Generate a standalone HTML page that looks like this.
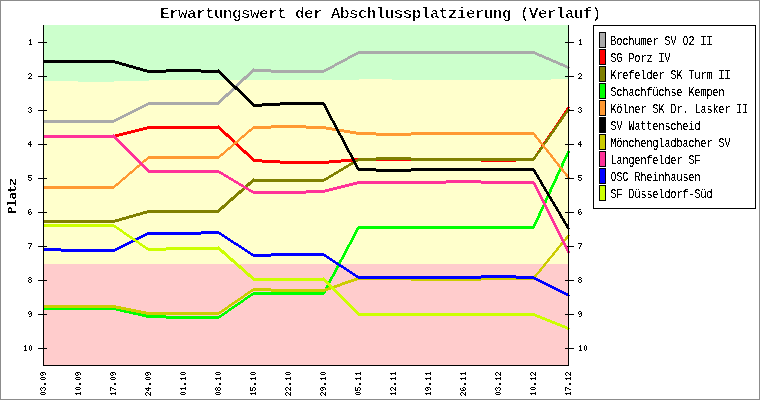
<!DOCTYPE html>
<html><head><meta charset="utf-8"><title>Erwartungswert der Abschlussplatzierung (Verlauf)</title>
<style>html,body{margin:0;padding:0;background:#fff;}svg{display:block;}text{font-family:"Liberation Mono",monospace;fill:#000;}</style></head><body>
<svg width="760" height="400" viewBox="0 0 760 400" shape-rendering="crispEdges">
<defs><filter id="bw" x="0" y="0" width="760" height="400" filterUnits="userSpaceOnUse" color-interpolation-filters="sRGB"><feComponentTransfer><feFuncR type="discrete" tableValues="0"/><feFuncG type="discrete" tableValues="0"/><feFuncB type="discrete" tableValues="0"/><feFuncA type="discrete" tableValues="0 0 0 0 0 0 0 0 0 1 1 1 1 1 1 1 1 1 1 1"/></feComponentTransfer></filter><filter id="bw2" x="0" y="0" width="760" height="400" filterUnits="userSpaceOnUse" color-interpolation-filters="sRGB"><feComponentTransfer><feFuncR type="discrete" tableValues="0"/><feFuncG type="discrete" tableValues="0"/><feFuncB type="discrete" tableValues="0"/><feFuncA type="discrete" tableValues="0 0 0 1"/></feComponentTransfer></filter></defs>
<rect x="0" y="0" width="760" height="400" fill="#ffffff"/>
<rect x="44" y="25" width="524" height="340" fill="#ffffcc"/>
<polygon points="44,25 44,81 78,81 78,82 114,82 114,81 149,81 149,80 359,80 359,79 392,79 392,80 551,80 551,79 568,79 568,25" fill="#ccffcc"/>
<rect x="44" y="264" width="524" height="101" fill="#ffcccc"/>
<rect x="38" y="42" width="9" height="1" fill="#000"/>
<rect x="565" y="42" width="9" height="1" fill="#000"/>
<rect x="38" y="76" width="9" height="1" fill="#000"/>
<rect x="565" y="76" width="9" height="1" fill="#000"/>
<rect x="38" y="110" width="9" height="1" fill="#000"/>
<rect x="565" y="110" width="9" height="1" fill="#000"/>
<rect x="38" y="144" width="9" height="1" fill="#000"/>
<rect x="565" y="144" width="9" height="1" fill="#000"/>
<rect x="38" y="178" width="9" height="1" fill="#000"/>
<rect x="565" y="178" width="9" height="1" fill="#000"/>
<rect x="38" y="212" width="9" height="1" fill="#000"/>
<rect x="565" y="212" width="9" height="1" fill="#000"/>
<rect x="38" y="246" width="9" height="1" fill="#000"/>
<rect x="565" y="246" width="9" height="1" fill="#000"/>
<rect x="38" y="280" width="9" height="1" fill="#000"/>
<rect x="565" y="280" width="9" height="1" fill="#000"/>
<rect x="38" y="314" width="9" height="1" fill="#000"/>
<rect x="565" y="314" width="9" height="1" fill="#000"/>
<rect x="38" y="348" width="9" height="1" fill="#000"/>
<rect x="565" y="348" width="9" height="1" fill="#000"/>
<path d="M43 122h71v1h-71zM43 121h73v1h-73zM43 120h75v1h-75zM114 119h6v1h-6zM116 118h6v1h-6zM118 117h6v1h-6zM120 116h6v1h-6zM122 115h6v1h-6zM124 114h6v1h-6zM126 113h6v1h-6zM128 112h6v1h-6zM130 111h6v1h-6zM132 110h6v1h-6zM134 109h6v1h-6zM136 108h6v1h-6zM138 107h6v1h-6zM140 106h6v1h-6zM142 105h6v1h-6zM144 104h75v1h-75zM146 103h74v1h-74zM148 102h73v1h-73zM218 101h4v1h-4zM219 100h4v1h-4zM220 99h4v1h-4zM221 98h4v1h-4zM222 97h4v1h-4zM223 96h5v1h-5zM224 95h5v1h-5zM225 94h5v1h-5zM226 93h5v1h-5zM228 92h4v1h-4zM229 91h4v1h-4zM230 90h4v1h-4zM231 89h4v1h-4zM232 88h4v1h-4zM233 87h4v1h-4zM234 86h4v1h-4zM235 85h4v1h-4zM236 84h4v1h-4zM237 83h4v1h-4zM238 82h4v1h-4zM239 81h4v1h-4zM240 80h4v1h-4zM241 79h5v1h-5zM242 78h5v1h-5zM243 77h5v1h-5zM244 76h5v1h-5zM246 75h4v1h-4zM247 74h4v1h-4zM248 73h4v1h-4zM249 72h4v1h-4zM250 71h76v1h-76zM251 70h77v1h-77zM252 69h19v1h-19zM253 68h1v1h-1zM271 72h53v1h-53zM324 69h6v1h-6zM326 68h6v1h-6zM328 67h6v1h-6zM330 66h5v1h-5zM332 65h5v1h-5zM334 64h5v1h-5zM335 63h6v1h-6zM337 62h6v1h-6zM339 61h6v1h-6zM341 60h6v1h-6zM343 59h5v1h-5zM345 58h5v1h-5zM347 57h5v1h-5zM348 56h6v1h-6zM350 55h6v1h-6zM352 54h6v1h-6zM354 53h185v1h-185zM356 52h181v1h-181zM358 51h177v1h-177zM535 54h7v1h-7zM537 55h7v1h-7zM539 56h7v1h-7zM542 57h7v1h-7zM544 58h7v1h-7zM546 59h7v1h-7zM549 60h7v1h-7zM551 61h7v1h-7zM553 62h7v1h-7zM556 63h7v1h-7zM558 64h7v1h-7zM560 65h7v1h-7zM563 66h6v1h-6zM565 67h5v1h-5zM567 68h2v1h-2z" fill="#aaaaaa"/>
<path d="M43 137h72v1h-72zM43 136h76v1h-76zM43 135h80v1h-80zM115 134h12v1h-12zM119 133h12v1h-12zM123 132h12v1h-12zM127 131h12v1h-12zM131 130h12v1h-12zM135 129h12v1h-12zM139 128h83v1h-83zM143 127h78v1h-78zM147 126h73v1h-73zM218 125h1v1h-1zM219 129h4v1h-4zM220 130h4v1h-4zM221 131h4v1h-4zM222 132h4v1h-4zM223 133h5v1h-5zM224 134h5v1h-5zM225 135h5v1h-5zM226 136h5v1h-5zM228 137h4v1h-4zM229 138h4v1h-4zM230 139h4v1h-4zM231 140h4v1h-4zM232 141h4v1h-4zM233 142h4v1h-4zM234 143h4v1h-4zM235 144h4v1h-4zM236 145h4v1h-4zM237 146h4v1h-4zM238 147h4v1h-4zM239 148h4v1h-4zM240 149h4v1h-4zM241 150h5v1h-5zM242 151h5v1h-5zM243 152h5v1h-5zM244 153h5v1h-5zM246 154h4v1h-4zM247 155h4v1h-4zM248 156h4v1h-4zM249 157h4v1h-4zM250 158h4v1h-4zM251 159h11v1h-11zM252 160h28v1h-28zM253 161h100v1h-100zM262 162h79v1h-79zM280 163h49v1h-49zM329 160h205v1h-205zM341 159h194v1h-194zM353 158h128v1h-128zM481 161h35v1h-35zM516 158h20v1h-20zM533 157h3v1h-3zM534 156h3v1h-3zM535 154h3v2h-3zM536 153h3v1h-3zM537 151h3v2h-3zM538 150h3v1h-3zM539 148h3v2h-3zM540 147h3v1h-3zM541 145h3v2h-3zM542 144h3v1h-3zM543 142h3v2h-3zM544 141h3v1h-3zM545 139h3v2h-3zM546 138h3v1h-3zM547 136h3v2h-3zM548 135h3v1h-3zM549 133h3v2h-3zM550 132h3v1h-3zM551 131h3v1h-3zM552 129h3v2h-3zM553 128h3v1h-3zM554 126h3v2h-3zM555 125h3v1h-3zM556 123h3v2h-3zM557 122h3v1h-3zM558 120h3v2h-3zM559 119h3v1h-3zM560 117h3v2h-3zM561 116h3v1h-3zM562 114h3v2h-3zM563 113h3v1h-3zM564 111h3v2h-3zM565 110h3v1h-3zM566 108h3v2h-3zM567 107h3v1h-3z" fill="#ff0000"/>
<path d="M43 222h72v1h-72zM43 221h76v1h-76zM43 220h79v1h-79zM115 219h11v1h-11zM119 218h10v1h-10zM122 217h11v1h-11zM126 216h10v1h-10zM129 215h11v1h-11zM133 214h10v1h-10zM136 213h11v1h-11zM140 212h79v1h-79zM143 211h77v1h-77zM147 210h74v1h-74zM218 209h4v1h-4zM219 208h5v1h-5zM220 207h5v1h-5zM221 206h5v1h-5zM222 205h5v1h-5zM224 204h4v1h-4zM225 203h4v1h-4zM226 202h4v1h-4zM227 201h4v1h-4zM228 200h5v1h-5zM229 199h5v1h-5zM230 198h5v1h-5zM231 197h5v1h-5zM233 196h4v1h-4zM234 195h4v1h-4zM235 194h4v1h-4zM236 193h5v1h-5zM237 192h5v1h-5zM238 191h5v1h-5zM239 190h5v1h-5zM241 189h4v1h-4zM242 188h4v1h-4zM243 187h4v1h-4zM244 186h4v1h-4zM245 185h5v1h-5zM246 184h5v1h-5zM247 183h5v1h-5zM248 182h5v1h-5zM250 181h74v1h-74zM251 180h75v1h-75zM252 179h76v1h-76zM253 178h1v1h-1zM324 178h5v1h-5zM326 177h5v1h-5zM328 176h5v1h-5zM329 175h5v1h-5zM331 174h5v1h-5zM333 173h5v1h-5zM334 172h5v1h-5zM336 171h5v1h-5zM338 170h5v1h-5zM339 169h5v1h-5zM341 168h5v1h-5zM343 167h5v1h-5zM344 166h5v1h-5zM346 165h5v1h-5zM348 164h5v1h-5zM349 163h5v1h-5zM351 162h5v1h-5zM353 161h5v1h-5zM354 160h22v1h-22zM356 159h179v1h-179zM358 158h178v1h-178zM376 157h35v1h-35zM411 160h123v1h-123zM533 157h3v1h-3zM534 156h3v1h-3zM535 154h3v2h-3zM536 153h3v1h-3zM537 152h3v1h-3zM538 150h3v2h-3zM539 149h3v1h-3zM540 147h3v2h-3zM541 146h3v1h-3zM542 144h3v2h-3zM543 143h3v1h-3zM544 142h3v1h-3zM545 140h3v2h-3zM546 139h3v1h-3zM547 137h3v2h-3zM548 136h3v1h-3zM549 134h3v2h-3zM550 133h3v1h-3zM551 132h3v1h-3zM552 130h3v2h-3zM553 129h3v1h-3zM554 127h3v2h-3zM555 126h3v1h-3zM556 124h3v2h-3zM557 123h3v1h-3zM558 122h3v1h-3zM559 120h3v2h-3zM560 119h3v1h-3zM561 117h3v2h-3zM562 116h3v1h-3zM563 114h3v2h-3zM564 113h3v1h-3zM565 112h3v1h-3zM566 110h3v2h-3zM567 109h3v1h-3z" fill="#808000"/>
<path d="M43 307h73v1h-73zM43 308h77v1h-77zM43 309h81v1h-81zM116 310h13v1h-13zM120 311h13v1h-13zM124 312h14v1h-14zM129 313h13v1h-13zM133 314h13v1h-13zM138 315h28v1h-28zM142 316h80v1h-80zM146 317h75v1h-75zM166 318h53v1h-53zM219 315h5v1h-5zM221 314h4v1h-4zM222 313h5v1h-5zM224 312h4v1h-4zM225 311h4v1h-4zM227 310h4v1h-4zM228 309h4v1h-4zM229 308h5v1h-5zM231 307h4v1h-4zM232 306h5v1h-5zM234 305h4v1h-4zM235 304h5v1h-5zM237 303h4v1h-4zM238 302h5v1h-5zM240 301h4v1h-4zM241 300h4v1h-4zM243 299h4v1h-4zM244 298h4v1h-4zM245 297h5v1h-5zM247 296h4v1h-4zM248 295h5v1h-5zM250 294h74v1h-74zM251 293h74v1h-74zM253 292h73v1h-73zM323 291h3v1h-3zM324 289h3v2h-3zM325 287h3v2h-3zM326 285h3v2h-3zM327 283h3v2h-3zM328 281h3v2h-3zM329 279h3v2h-3zM330 277h3v2h-3zM331 276h3v1h-3zM332 274h3v2h-3zM333 272h3v2h-3zM334 270h3v2h-3zM335 268h3v2h-3zM336 266h3v2h-3zM337 264h3v2h-3zM338 262h3v2h-3zM339 260h3v2h-3zM340 259h3v1h-3zM341 257h3v2h-3zM342 255h3v2h-3zM343 253h3v2h-3zM344 251h3v2h-3zM345 249h3v2h-3zM346 247h3v2h-3zM347 245h3v2h-3zM348 244h3v1h-3zM349 242h3v2h-3zM350 240h3v2h-3zM351 238h3v2h-3zM352 236h3v2h-3zM353 234h3v2h-3zM354 232h3v2h-3zM355 230h3v2h-3zM356 229h3v1h-3zM356 228h178v1h-178zM357 227h178v1h-178zM358 226h177v1h-177zM533 224h3v2h-3zM534 222h3v2h-3zM535 220h3v2h-3zM536 218h3v2h-3zM537 216h3v2h-3zM538 213h3v3h-3zM539 211h3v2h-3zM540 209h3v2h-3zM541 207h3v2h-3zM542 205h3v2h-3zM543 203h3v2h-3zM544 200h3v3h-3zM545 198h3v2h-3zM546 196h3v2h-3zM547 194h3v2h-3zM548 192h3v2h-3zM549 189h3v3h-3zM550 187h3v2h-3zM551 185h3v2h-3zM552 183h3v2h-3zM553 181h3v2h-3zM554 179h3v2h-3zM555 176h3v3h-3zM556 174h3v2h-3zM557 172h3v2h-3zM558 170h3v2h-3zM559 168h3v2h-3zM560 166h3v2h-3zM561 163h3v3h-3zM562 161h3v2h-3zM563 159h3v2h-3zM564 157h3v2h-3zM565 155h3v2h-3zM566 153h3v2h-3zM567 151h3v2h-3z" fill="#00ff00"/>
<path d="M43 188h71v1h-71zM43 187h72v1h-72zM43 186h73v1h-73zM114 185h4v1h-4zM115 184h4v1h-4zM116 183h4v1h-4zM118 182h3v1h-3zM119 181h3v1h-3zM120 180h3v1h-3zM121 179h4v1h-4zM122 178h4v1h-4zM123 177h4v1h-4zM125 176h3v1h-3zM126 175h3v1h-3zM127 174h3v1h-3zM128 173h4v1h-4zM129 172h4v1h-4zM130 171h4v1h-4zM132 170h3v1h-3zM133 169h3v1h-3zM134 168h3v1h-3zM135 167h4v1h-4zM136 166h4v1h-4zM137 165h4v1h-4zM139 164h3v1h-3zM140 163h3v1h-3zM141 162h3v1h-3zM142 161h4v1h-4zM143 160h4v1h-4zM144 159h4v1h-4zM146 158h73v1h-73zM147 157h73v1h-73zM148 156h73v1h-73zM219 155h4v1h-4zM220 154h4v1h-4zM221 153h4v1h-4zM223 152h3v1h-3zM224 151h3v1h-3zM225 150h3v1h-3zM226 149h4v1h-4zM227 148h4v1h-4zM228 147h4v1h-4zM230 146h3v1h-3zM231 145h3v1h-3zM232 144h3v1h-3zM233 143h4v1h-4zM234 142h4v1h-4zM235 141h4v1h-4zM237 140h3v1h-3zM238 139h3v1h-3zM239 138h3v1h-3zM240 137h4v1h-4zM241 136h4v1h-4zM242 135h4v1h-4zM244 134h3v1h-3zM245 133h3v1h-3zM246 132h3v1h-3zM247 131h4v1h-4zM248 130h4v1h-4zM249 129h4v1h-4zM251 128h20v1h-20zM252 127h80v1h-80zM253 126h73v1h-73zM271 125h35v1h-35zM306 128h32v1h-32zM326 129h18v1h-18zM332 130h18v1h-18zM338 131h18v1h-18zM344 132h32v1h-32zM350 133h185v1h-185zM356 134h180v1h-180zM376 135h35v1h-35zM411 132h123v1h-123zM534 135h3v2h-3zM535 137h3v1h-3zM536 138h3v1h-3zM537 139h3v1h-3zM538 140h3v2h-3zM539 142h3v1h-3zM540 143h3v1h-3zM541 144h3v1h-3zM542 145h3v2h-3zM543 147h3v1h-3zM544 148h3v1h-3zM545 149h3v1h-3zM546 150h3v2h-3zM547 152h3v1h-3zM548 153h3v1h-3zM549 154h3v1h-3zM550 155h3v2h-3zM551 157h3v1h-3zM552 158h3v1h-3zM553 159h3v2h-3zM554 161h3v1h-3zM555 162h3v1h-3zM556 163h3v1h-3zM557 164h3v2h-3zM558 166h3v1h-3zM559 167h3v1h-3zM560 168h3v1h-3zM561 169h3v2h-3zM562 171h3v1h-3zM563 172h3v1h-3zM564 173h3v1h-3zM565 174h3v2h-3zM566 176h3v1h-3zM567 177h3v1h-3z" fill="#ff9933"/>
<path d="M43 60h72v1h-72zM43 61h76v1h-76zM43 62h79v1h-79zM115 63h11v1h-11zM119 64h10v1h-10zM122 65h11v1h-11zM126 66h10v1h-10zM129 67h11v1h-11zM133 68h10v1h-10zM136 69h11v1h-11zM140 70h80v1h-80zM143 71h78v1h-78zM147 72h19v1h-19zM166 69h35v1h-35zM201 72h21v1h-21zM218 69h1v1h-1zM219 73h4v1h-4zM220 74h4v1h-4zM221 75h4v1h-4zM222 76h4v1h-4zM223 77h4v1h-4zM224 78h4v1h-4zM225 79h4v1h-4zM226 80h4v1h-4zM227 81h4v1h-4zM228 82h4v1h-4zM229 83h4v1h-4zM230 84h4v1h-4zM231 85h4v1h-4zM232 86h5v1h-5zM233 87h5v1h-5zM234 88h5v1h-5zM235 89h5v1h-5zM237 90h4v1h-4zM238 91h4v1h-4zM239 92h4v1h-4zM240 93h4v1h-4zM241 94h4v1h-4zM242 95h4v1h-4zM243 96h4v1h-4zM244 97h4v1h-4zM245 98h4v1h-4zM246 99h4v1h-4zM247 100h4v1h-4zM248 101h4v1h-4zM249 102h4v1h-4zM250 103h4v1h-4zM251 104h75v1h-75zM252 105h28v1h-28zM253 106h9v1h-9zM262 103h63v1h-63zM280 102h44v1h-44zM323 105h3v1h-3zM324 106h3v2h-3zM325 108h3v2h-3zM326 110h3v2h-3zM327 112h3v2h-3zM328 114h3v2h-3zM329 116h3v2h-3zM330 118h3v2h-3zM331 120h3v1h-3zM332 121h3v2h-3zM333 123h3v2h-3zM334 125h3v2h-3zM335 127h3v2h-3zM336 129h3v2h-3zM337 131h3v2h-3zM338 133h3v2h-3zM339 135h3v1h-3zM340 136h3v2h-3zM341 138h3v2h-3zM342 140h3v2h-3zM343 142h3v2h-3zM344 144h3v2h-3zM345 146h3v2h-3zM346 148h3v2h-3zM347 150h3v2h-3zM348 152h3v1h-3zM349 153h3v2h-3zM350 155h3v2h-3zM351 157h3v2h-3zM352 159h3v2h-3zM353 161h3v2h-3zM354 163h3v2h-3zM355 165h3v2h-3zM356 167h3v1h-3zM356 168h20v1h-20zM357 169h178v1h-178zM358 170h178v1h-178zM376 171h35v1h-35zM411 168h123v1h-123zM533 171h3v1h-3zM534 172h3v2h-3zM535 174h3v1h-3zM536 175h3v2h-3zM537 177h3v2h-3zM538 179h3v1h-3zM539 180h3v2h-3zM540 182h3v2h-3zM541 184h3v2h-3zM542 186h3v1h-3zM543 187h3v2h-3zM544 189h3v2h-3zM545 191h3v1h-3zM546 192h3v2h-3zM547 194h3v2h-3zM548 196h3v1h-3zM549 197h3v2h-3zM550 199h3v2h-3zM551 201h3v1h-3zM552 202h3v2h-3zM553 204h3v2h-3zM554 206h3v1h-3zM555 207h3v2h-3zM556 209h3v2h-3zM557 211h3v1h-3zM558 212h3v2h-3zM559 214h3v2h-3zM560 216h3v2h-3zM561 218h3v1h-3zM562 219h3v2h-3zM563 221h3v2h-3zM564 223h3v1h-3zM565 224h3v2h-3zM566 226h3v2h-3zM567 228h3v1h-3z" fill="#000000"/>
<path d="M43 305h73v1h-73zM43 306h78v1h-78zM43 307h83v1h-83zM116 308h15v1h-15zM121 309h15v1h-15zM126 310h15v1h-15zM131 311h15v1h-15zM136 312h86v1h-86zM141 313h80v1h-80zM146 314h73v1h-73zM219 311h5v1h-5zM221 310h4v1h-4zM222 309h5v1h-5zM224 308h4v1h-4zM225 307h4v1h-4zM227 306h4v1h-4zM228 305h4v1h-4zM229 304h5v1h-5zM231 303h4v1h-4zM232 302h5v1h-5zM234 301h4v1h-4zM235 300h5v1h-5zM237 299h4v1h-4zM238 298h5v1h-5zM240 297h4v1h-4zM241 296h4v1h-4zM243 295h4v1h-4zM244 294h4v1h-4zM245 293h5v1h-5zM247 292h4v1h-4zM248 291h5v1h-5zM250 290h78v1h-78zM251 289h80v1h-80zM253 288h18v1h-18zM271 291h54v1h-54zM325 288h9v1h-9zM328 287h9v1h-9zM331 286h9v1h-9zM334 285h8v1h-8zM337 284h8v1h-8zM340 283h8v1h-8zM342 282h9v1h-9zM345 281h9v1h-9zM348 280h9v1h-9zM351 279h183v1h-183zM354 278h181v1h-181zM357 277h54v1h-54zM411 280h70v1h-70zM481 277h55v1h-55zM534 275h3v2h-3zM535 274h3v1h-3zM536 273h3v1h-3zM537 272h3v1h-3zM538 271h3v1h-3zM539 269h3v2h-3zM540 268h3v1h-3zM541 267h3v1h-3zM542 266h3v1h-3zM543 264h3v2h-3zM544 263h3v1h-3zM545 262h3v1h-3zM546 261h3v1h-3zM547 259h3v2h-3zM548 258h3v1h-3zM549 257h3v1h-3zM550 256h3v1h-3zM551 255h3v1h-3zM552 253h3v2h-3zM553 252h3v1h-3zM554 251h3v1h-3zM555 250h3v1h-3zM556 248h3v2h-3zM557 247h3v1h-3zM558 246h3v1h-3zM559 245h3v1h-3zM560 243h3v2h-3zM561 242h3v1h-3zM562 241h3v1h-3zM563 240h3v1h-3zM564 239h3v1h-3zM565 237h3v2h-3zM566 236h3v1h-3zM567 235h3v1h-3z" fill="#cccc00"/>
<path d="M43 135h72v1h-72zM43 136h73v1h-73zM43 137h74v1h-74zM113 134h1v1h-1zM114 138h4v1h-4zM115 139h4v1h-4zM116 140h4v1h-4zM117 141h4v1h-4zM118 142h4v1h-4zM119 143h4v1h-4zM120 144h4v1h-4zM121 145h4v1h-4zM122 146h4v1h-4zM123 147h4v1h-4zM124 148h4v1h-4zM125 149h4v1h-4zM126 150h4v1h-4zM127 151h4v1h-4zM128 152h4v1h-4zM129 153h4v1h-4zM130 154h4v1h-4zM131 155h4v1h-4zM132 156h4v1h-4zM133 157h4v1h-4zM134 158h4v1h-4zM135 159h4v1h-4zM136 160h4v1h-4zM137 161h4v1h-4zM138 162h4v1h-4zM139 163h4v1h-4zM140 164h4v1h-4zM141 165h4v1h-4zM142 166h4v1h-4zM143 167h4v1h-4zM144 168h4v1h-4zM145 169h4v1h-4zM146 170h73v1h-73zM147 171h74v1h-74zM148 172h75v1h-75zM219 173h5v1h-5zM221 174h5v1h-5zM223 175h5v1h-5zM224 176h5v1h-5zM226 177h5v1h-5zM228 178h5v1h-5zM229 179h5v1h-5zM231 180h5v1h-5zM233 181h5v1h-5zM234 182h5v1h-5zM236 183h5v1h-5zM238 184h5v1h-5zM239 185h5v1h-5zM241 186h5v1h-5zM243 187h5v1h-5zM244 188h5v1h-5zM246 189h5v1h-5zM248 190h5v1h-5zM249 191h80v1h-80zM251 192h74v1h-74zM253 193h53v1h-53zM306 190h27v1h-27zM325 189h12v1h-12zM329 188h12v1h-12zM333 187h12v1h-12zM337 186h12v1h-12zM341 185h12v1h-12zM345 184h12v1h-12zM349 183h97v1h-97zM353 182h182v1h-182zM357 181h177v1h-177zM446 180h35v1h-35zM481 183h55v1h-55zM533 184h3v1h-3zM534 185h3v2h-3zM535 187h3v2h-3zM536 189h3v2h-3zM537 191h3v2h-3zM538 193h3v2h-3zM539 195h3v2h-3zM540 197h3v2h-3zM541 199h3v2h-3zM542 201h3v2h-3zM543 203h3v2h-3zM544 205h3v2h-3zM545 207h3v2h-3zM546 209h3v2h-3zM547 211h3v2h-3zM548 213h3v2h-3zM549 215h3v2h-3zM550 217h3v2h-3zM551 219h3v2h-3zM552 221h3v2h-3zM553 223h3v2h-3zM554 225h3v2h-3zM555 227h3v2h-3zM556 229h3v2h-3zM557 231h3v2h-3zM558 233h3v2h-3zM559 235h3v2h-3zM560 237h3v2h-3zM561 239h3v2h-3zM562 241h3v2h-3zM563 243h3v2h-3zM564 245h3v2h-3zM565 247h3v2h-3zM566 249h3v2h-3zM567 251h3v2h-3z" fill="#ff3399"/>
<path d="M43 248h18v1h-18zM43 250h74v1h-74zM43 249h76v1h-76zM61 251h54v1h-54zM115 248h6v1h-6zM117 247h6v1h-6zM119 246h6v1h-6zM121 245h6v1h-6zM123 244h6v1h-6zM125 243h6v1h-6zM127 242h6v1h-6zM129 241h6v1h-6zM131 240h6v1h-6zM133 239h6v1h-6zM135 238h6v1h-6zM137 237h6v1h-6zM139 236h6v1h-6zM141 235h6v1h-6zM143 234h58v1h-58zM145 233h77v1h-77zM147 232h74v1h-74zM201 231h18v1h-18zM219 234h5v1h-5zM221 235h4v1h-4zM222 236h5v1h-5zM224 237h4v1h-4zM225 238h5v1h-5zM227 239h4v1h-4zM228 240h5v1h-5zM230 241h4v1h-4zM231 242h5v1h-5zM233 243h5v1h-5zM234 244h5v1h-5zM236 245h5v1h-5zM238 246h4v1h-4zM239 247h5v1h-5zM241 248h4v1h-4zM242 249h5v1h-5zM244 250h4v1h-4zM245 251h5v1h-5zM247 252h4v1h-4zM248 253h5v1h-5zM250 254h76v1h-76zM251 255h76v1h-76zM253 256h18v1h-18zM271 253h53v1h-53zM324 256h5v1h-5zM326 257h4v1h-4zM327 258h5v1h-5zM329 259h4v1h-4zM330 260h5v1h-5zM332 261h4v1h-4zM333 262h5v1h-5zM335 263h4v1h-4zM336 264h5v1h-5zM338 265h5v1h-5zM339 266h5v1h-5zM341 267h5v1h-5zM343 268h4v1h-4zM344 269h5v1h-5zM346 270h4v1h-4zM347 271h5v1h-5zM349 272h4v1h-4zM350 273h5v1h-5zM352 274h4v1h-4zM353 275h5v1h-5zM355 276h179v1h-179zM356 277h180v1h-180zM358 278h123v1h-123zM481 275h35v1h-35zM516 278h22v1h-22zM534 279h6v1h-6zM536 280h6v1h-6zM538 281h6v1h-6zM540 282h6v1h-6zM542 283h6v1h-6zM544 284h6v1h-6zM546 285h6v1h-6zM548 286h6v1h-6zM550 287h6v1h-6zM552 288h6v1h-6zM554 289h6v1h-6zM556 290h6v1h-6zM558 291h6v1h-6zM560 292h6v1h-6zM562 293h6v1h-6zM564 294h5v1h-5zM566 295h4v1h-4zM568 296h1v1h-1z" fill="#0000ff"/>
<path d="M43 224h71v1h-71zM43 225h73v1h-73zM43 226h74v1h-74zM114 227h5v1h-5zM116 228h4v1h-4zM117 229h5v1h-5zM119 230h4v1h-4zM120 231h4v1h-4zM122 232h4v1h-4zM123 233h4v1h-4zM124 234h5v1h-5zM126 235h4v1h-4zM127 236h5v1h-5zM129 237h4v1h-4zM130 238h5v1h-5zM132 239h4v1h-4zM133 240h5v1h-5zM135 241h4v1h-4zM136 242h4v1h-4zM138 243h4v1h-4zM139 244h4v1h-4zM140 245h5v1h-5zM142 246h4v1h-4zM143 247h5v1h-5zM145 248h76v1h-76zM146 249h76v1h-76zM148 250h18v1h-18zM166 247h54v1h-54zM218 246h1v1h-1zM219 250h5v1h-5zM220 251h5v1h-5zM221 252h5v1h-5zM222 253h5v1h-5zM224 254h4v1h-4zM225 255h4v1h-4zM226 256h4v1h-4zM227 257h4v1h-4zM228 258h5v1h-5zM229 259h5v1h-5zM230 260h5v1h-5zM231 261h5v1h-5zM233 262h4v1h-4zM234 263h4v1h-4zM235 264h4v1h-4zM236 265h5v1h-5zM237 266h5v1h-5zM238 267h5v1h-5zM239 268h5v1h-5zM241 269h4v1h-4zM242 270h4v1h-4zM243 271h4v1h-4zM244 272h4v1h-4zM245 273h5v1h-5zM246 274h5v1h-5zM247 275h5v1h-5zM248 276h5v1h-5zM250 277h4v1h-4zM251 278h74v1h-74zM252 279h74v1h-74zM253 280h74v1h-74zM323 277h1v1h-1zM324 281h4v1h-4zM325 282h4v1h-4zM326 283h4v1h-4zM327 284h4v1h-4zM328 285h4v1h-4zM329 286h4v1h-4zM330 287h4v1h-4zM331 288h4v1h-4zM332 289h4v1h-4zM333 290h4v1h-4zM334 291h4v1h-4zM335 292h4v1h-4zM336 293h4v1h-4zM337 294h4v1h-4zM338 295h4v1h-4zM339 296h4v1h-4zM340 297h4v1h-4zM341 298h4v1h-4zM342 299h4v1h-4zM343 300h4v1h-4zM344 301h4v1h-4zM345 302h4v1h-4zM346 303h4v1h-4zM347 304h4v1h-4zM348 305h4v1h-4zM349 306h4v1h-4zM350 307h4v1h-4zM351 308h4v1h-4zM352 309h4v1h-4zM353 310h4v1h-4zM354 311h4v1h-4zM355 312h4v1h-4zM356 313h179v1h-179zM357 314h180v1h-180zM358 315h182v1h-182zM535 316h7v1h-7zM537 317h8v1h-8zM540 318h7v1h-7zM542 319h8v1h-8zM545 320h7v1h-7zM547 321h8v1h-8zM550 322h7v1h-7zM552 323h8v1h-8zM555 324h7v1h-7zM557 325h8v1h-8zM560 326h7v1h-7zM562 327h7v1h-7zM565 328h5v1h-5zM567 329h2v1h-2z" fill="#ccff00"/>
<rect x="43" y="25" width="1" height="341" fill="#000"/>
<rect x="568" y="25" width="1" height="341" fill="#000"/>
<rect x="43" y="365" width="526" height="1" fill="#000"/>
<path d="M30 39h1v1h-1zM580 39h1v1h-1zM29 40h2v1h-2zM579 40h2v1h-2zM30 41h1v1h-1zM580 41h1v1h-1zM30 42h1v1h-1zM580 42h1v1h-1zM30 43h1v1h-1zM580 43h1v1h-1zM29 44h3v1h-3zM579 44h3v1h-3zM29 73h2v1h-2zM579 73h2v1h-2zM28 74h1v1h-1zM31 74h1v1h-1zM578 74h1v1h-1zM581 74h1v1h-1zM31 75h1v1h-1zM581 75h1v1h-1zM30 76h1v1h-1zM580 76h1v1h-1zM29 77h1v1h-1zM579 77h1v1h-1zM28 78h4v1h-4zM578 78h4v1h-4zM29 107h2v1h-2zM579 107h2v1h-2zM28 108h1v1h-1zM31 108h1v1h-1zM578 108h1v1h-1zM581 108h1v1h-1zM30 109h1v1h-1zM580 109h1v1h-1zM31 110h1v1h-1zM581 110h1v1h-1zM28 111h1v1h-1zM31 111h1v1h-1zM578 111h1v1h-1zM581 111h1v1h-1zM29 112h2v1h-2zM579 112h2v1h-2zM30 141h1v1h-1zM580 141h1v1h-1zM29 142h2v1h-2zM579 142h2v1h-2zM28 143h1v1h-1zM30 143h1v1h-1zM578 143h1v1h-1zM580 143h1v1h-1zM28 144h4v1h-4zM578 144h4v1h-4zM30 145h1v1h-1zM580 145h1v1h-1zM30 146h1v1h-1zM580 146h1v1h-1zM28 175h4v1h-4zM578 175h4v1h-4zM28 176h1v1h-1zM578 176h1v1h-1zM28 177h3v1h-3zM578 177h3v1h-3zM31 178h1v1h-1zM581 178h1v1h-1zM10 179h2v1h-2zM15 179h1v1h-1zM28 179h1v1h-1zM31 179h1v1h-1zM578 179h1v1h-1zM581 179h1v1h-1zM10 180h3v1h-3zM15 180h1v1h-1zM29 180h2v1h-2zM579 180h2v1h-2zM10 181h1v1h-1zM12 181h1v1h-1zM15 181h1v1h-1zM10 182h1v1h-1zM13 182h1v1h-1zM15 182h1v1h-1zM10 183h1v1h-1zM13 183h3v1h-3zM10 184h1v1h-1zM14 184h2v1h-2zM14 186h1v1h-1zM10 187h1v1h-1zM15 187h1v1h-1zM10 188h1v1h-1zM15 188h1v1h-1zM8 189h8v1h-8zM8 190h7v1h-7zM10 191h1v1h-1zM11 193h5v1h-5zM10 194h6v1h-6zM10 195h1v1h-1zM12 195h1v1h-1zM15 195h1v1h-1zM10 196h1v1h-1zM12 196h1v1h-1zM15 196h1v1h-1zM10 197h1v1h-1zM12 197h4v1h-4zM13 198h2v1h-2zM15 200h1v1h-1zM15 201h1v1h-1zM7 202h9v1h-9zM7 203h9v1h-9zM7 204h1v1h-1zM15 204h1v1h-1zM15 205h1v1h-1zM9 207h2v1h-2zM8 208h4v1h-4zM8 209h1v1h-1zM11 209h1v1h-1zM29 209h2v1h-2zM579 209h2v1h-2zM8 210h1v1h-1zM11 210h1v1h-1zM28 210h1v1h-1zM578 210h1v1h-1zM8 211h8v1h-8zM28 211h1v1h-1zM30 211h1v1h-1zM578 211h1v1h-1zM580 211h1v1h-1zM8 212h8v1h-8zM28 212h2v1h-2zM31 212h1v1h-1zM578 212h2v1h-2zM581 212h1v1h-1zM28 213h1v1h-1zM31 213h1v1h-1zM578 213h1v1h-1zM581 213h1v1h-1zM29 214h2v1h-2zM579 214h2v1h-2zM28 243h4v1h-4zM578 243h4v1h-4zM31 244h1v1h-1zM581 244h1v1h-1zM30 245h1v1h-1zM580 245h1v1h-1zM30 246h1v1h-1zM580 246h1v1h-1zM29 247h1v1h-1zM579 247h1v1h-1zM29 248h1v1h-1zM579 248h1v1h-1zM29 277h2v1h-2zM579 277h2v1h-2zM28 278h1v1h-1zM31 278h1v1h-1zM578 278h1v1h-1zM581 278h1v1h-1zM29 279h2v1h-2zM579 279h2v1h-2zM28 280h1v1h-1zM31 280h1v1h-1zM578 280h1v1h-1zM581 280h1v1h-1zM28 281h1v1h-1zM31 281h1v1h-1zM578 281h1v1h-1zM581 281h1v1h-1zM29 282h2v1h-2zM579 282h2v1h-2zM29 311h2v1h-2zM579 311h2v1h-2zM28 312h1v1h-1zM31 312h1v1h-1zM578 312h1v1h-1zM581 312h1v1h-1zM28 313h1v1h-1zM30 313h2v1h-2zM578 313h1v1h-1zM580 313h2v1h-2zM29 314h1v1h-1zM31 314h1v1h-1zM579 314h1v1h-1zM581 314h1v1h-1zM31 315h1v1h-1zM581 315h1v1h-1zM29 316h2v1h-2zM579 316h2v1h-2zM25 345h1v1h-1zM30 345h1v1h-1zM580 345h1v1h-1zM585 345h1v1h-1zM24 346h2v1h-2zM29 346h1v1h-1zM31 346h1v1h-1zM579 346h2v1h-2zM584 346h1v1h-1zM586 346h1v1h-1zM25 347h1v1h-1zM29 347h1v1h-1zM31 347h1v1h-1zM580 347h1v1h-1zM584 347h1v1h-1zM586 347h1v1h-1zM25 348h1v1h-1zM29 348h1v1h-1zM31 348h1v1h-1zM580 348h1v1h-1zM584 348h1v1h-1zM586 348h1v1h-1zM25 349h1v1h-1zM29 349h1v1h-1zM31 349h1v1h-1zM580 349h1v1h-1zM584 349h1v1h-1zM586 349h1v1h-1zM24 350h3v1h-3zM30 350h1v1h-1zM579 350h3v1h-3zM585 350h1v1h-1zM41 372h4v1h-4zM76 372h4v1h-4zM111 372h4v1h-4zM146 372h4v1h-4zM181 372h4v1h-4zM216 372h4v1h-4zM251 372h4v1h-4zM286 372h4v1h-4zM321 372h4v1h-4zM360 372h1v1h-1zM395 372h1v1h-1zM430 372h1v1h-1zM465 372h1v1h-1zM496 372h2v1h-2zM500 372h1v1h-1zM531 372h2v1h-2zM535 372h1v1h-1zM566 372h2v1h-2zM570 372h1v1h-1zM40 373h1v1h-1zM42 373h1v1h-1zM45 373h1v1h-1zM75 373h1v1h-1zM77 373h1v1h-1zM80 373h1v1h-1zM110 373h1v1h-1zM112 373h1v1h-1zM115 373h1v1h-1zM145 373h1v1h-1zM147 373h1v1h-1zM150 373h1v1h-1zM180 373h1v1h-1zM185 373h1v1h-1zM215 373h1v1h-1zM220 373h1v1h-1zM250 373h1v1h-1zM255 373h1v1h-1zM285 373h1v1h-1zM290 373h1v1h-1zM320 373h1v1h-1zM325 373h1v1h-1zM355 373h6v1h-6zM390 373h6v1h-6zM425 373h6v1h-6zM460 373h6v1h-6zM495 373h1v1h-1zM498 373h1v1h-1zM500 373h1v1h-1zM530 373h1v1h-1zM533 373h1v1h-1zM535 373h1v1h-1zM565 373h1v1h-1zM568 373h1v1h-1zM570 373h1v1h-1zM40 374h1v1h-1zM43 374h1v1h-1zM45 374h1v1h-1zM75 374h1v1h-1zM78 374h1v1h-1zM80 374h1v1h-1zM110 374h1v1h-1zM113 374h1v1h-1zM115 374h1v1h-1zM145 374h1v1h-1zM148 374h1v1h-1zM150 374h1v1h-1zM181 374h4v1h-4zM216 374h4v1h-4zM251 374h4v1h-4zM286 374h4v1h-4zM321 374h4v1h-4zM356 374h1v1h-1zM360 374h1v1h-1zM391 374h1v1h-1zM395 374h1v1h-1zM426 374h1v1h-1zM430 374h1v1h-1zM461 374h1v1h-1zM465 374h1v1h-1zM495 374h1v1h-1zM499 374h2v1h-2zM530 374h1v1h-1zM534 374h2v1h-2zM565 374h1v1h-1zM569 374h2v1h-2zM41 375h2v1h-2zM76 375h2v1h-2zM111 375h2v1h-2zM146 375h2v1h-2zM496 375h1v1h-1zM500 375h1v1h-1zM531 375h1v1h-1zM535 375h1v1h-1zM566 375h1v1h-1zM570 375h1v1h-1zM41 377h4v1h-4zM76 377h4v1h-4zM111 377h4v1h-4zM146 377h4v1h-4zM185 377h1v1h-1zM220 377h1v1h-1zM255 377h1v1h-1zM290 377h1v1h-1zM325 377h1v1h-1zM360 377h1v1h-1zM395 377h1v1h-1zM430 377h1v1h-1zM465 377h1v1h-1zM500 377h1v1h-1zM535 377h1v1h-1zM570 377h1v1h-1zM40 378h1v1h-1zM45 378h1v1h-1zM75 378h1v1h-1zM80 378h1v1h-1zM110 378h1v1h-1zM115 378h1v1h-1zM145 378h1v1h-1zM150 378h1v1h-1zM180 378h6v1h-6zM215 378h6v1h-6zM250 378h6v1h-6zM285 378h6v1h-6zM320 378h6v1h-6zM355 378h6v1h-6zM390 378h6v1h-6zM425 378h6v1h-6zM460 378h6v1h-6zM495 378h6v1h-6zM530 378h6v1h-6zM565 378h6v1h-6zM41 379h4v1h-4zM76 379h4v1h-4zM111 379h4v1h-4zM146 379h4v1h-4zM181 379h1v1h-1zM185 379h1v1h-1zM216 379h1v1h-1zM220 379h1v1h-1zM251 379h1v1h-1zM255 379h1v1h-1zM286 379h1v1h-1zM290 379h1v1h-1zM321 379h1v1h-1zM325 379h1v1h-1zM356 379h1v1h-1zM360 379h1v1h-1zM391 379h1v1h-1zM395 379h1v1h-1zM426 379h1v1h-1zM430 379h1v1h-1zM461 379h1v1h-1zM465 379h1v1h-1zM496 379h1v1h-1zM500 379h1v1h-1zM531 379h1v1h-1zM535 379h1v1h-1zM566 379h1v1h-1zM570 379h1v1h-1zM44 383h2v1h-2zM79 383h2v1h-2zM114 383h2v1h-2zM149 383h2v1h-2zM184 383h2v1h-2zM219 383h2v1h-2zM254 383h2v1h-2zM289 383h2v1h-2zM324 383h2v1h-2zM359 383h2v1h-2zM394 383h2v1h-2zM429 383h2v1h-2zM464 383h2v1h-2zM499 383h2v1h-2zM534 383h2v1h-2zM569 383h2v1h-2zM44 384h2v1h-2zM79 384h2v1h-2zM114 384h2v1h-2zM149 384h2v1h-2zM184 384h2v1h-2zM219 384h2v1h-2zM254 384h2v1h-2zM289 384h2v1h-2zM324 384h2v1h-2zM359 384h2v1h-2zM394 384h2v1h-2zM429 384h2v1h-2zM464 384h2v1h-2zM499 384h2v1h-2zM534 384h2v1h-2zM569 384h2v1h-2zM41 387h1v1h-1zM43 387h2v1h-2zM76 387h4v1h-4zM110 387h2v1h-2zM148 387h1v1h-1zM185 387h1v1h-1zM216 387h1v1h-1zM218 387h2v1h-2zM250 387h1v1h-1zM253 387h2v1h-2zM286 387h2v1h-2zM290 387h1v1h-1zM321 387h4v1h-4zM355 387h1v1h-1zM358 387h2v1h-2zM391 387h2v1h-2zM395 387h1v1h-1zM426 387h4v1h-4zM463 387h2v1h-2zM496 387h1v1h-1zM498 387h2v1h-2zM531 387h4v1h-4zM565 387h2v1h-2zM40 388h1v1h-1zM42 388h1v1h-1zM45 388h1v1h-1zM75 388h1v1h-1zM80 388h1v1h-1zM110 388h1v1h-1zM112 388h2v1h-2zM145 388h6v1h-6zM180 388h6v1h-6zM215 388h1v1h-1zM217 388h1v1h-1zM220 388h1v1h-1zM250 388h1v1h-1zM252 388h1v1h-1zM255 388h1v1h-1zM285 388h1v1h-1zM288 388h1v1h-1zM290 388h1v1h-1zM320 388h1v1h-1zM322 388h1v1h-1zM325 388h1v1h-1zM355 388h1v1h-1zM357 388h1v1h-1zM360 388h1v1h-1zM390 388h1v1h-1zM393 388h1v1h-1zM395 388h1v1h-1zM425 388h1v1h-1zM427 388h1v1h-1zM430 388h1v1h-1zM460 388h1v1h-1zM462 388h1v1h-1zM465 388h1v1h-1zM495 388h1v1h-1zM497 388h1v1h-1zM500 388h1v1h-1zM530 388h1v1h-1zM535 388h1v1h-1zM565 388h1v1h-1zM567 388h2v1h-2zM40 389h1v1h-1zM45 389h1v1h-1zM76 389h4v1h-4zM110 389h1v1h-1zM114 389h2v1h-2zM146 389h1v1h-1zM148 389h1v1h-1zM181 389h1v1h-1zM185 389h1v1h-1zM215 389h1v1h-1zM217 389h1v1h-1zM220 389h1v1h-1zM250 389h1v1h-1zM252 389h1v1h-1zM255 389h1v1h-1zM285 389h1v1h-1zM289 389h2v1h-2zM320 389h1v1h-1zM323 389h1v1h-1zM325 389h1v1h-1zM355 389h1v1h-1zM357 389h1v1h-1zM360 389h1v1h-1zM390 389h1v1h-1zM394 389h2v1h-2zM425 389h1v1h-1zM428 389h1v1h-1zM430 389h1v1h-1zM460 389h1v1h-1zM463 389h1v1h-1zM465 389h1v1h-1zM495 389h1v1h-1zM500 389h1v1h-1zM531 389h4v1h-4zM565 389h1v1h-1zM569 389h2v1h-2zM41 390h1v1h-1zM44 390h1v1h-1zM110 390h1v1h-1zM147 390h2v1h-2zM216 390h1v1h-1zM218 390h2v1h-2zM250 390h3v1h-3zM254 390h1v1h-1zM286 390h1v1h-1zM290 390h1v1h-1zM321 390h2v1h-2zM355 390h3v1h-3zM359 390h1v1h-1zM391 390h1v1h-1zM395 390h1v1h-1zM426 390h2v1h-2zM461 390h4v1h-4zM496 390h1v1h-1zM499 390h1v1h-1zM565 390h1v1h-1zM41 392h4v1h-4zM80 392h1v1h-1zM115 392h1v1h-1zM146 392h2v1h-2zM150 392h1v1h-1zM181 392h4v1h-4zM216 392h4v1h-4zM255 392h1v1h-1zM286 392h2v1h-2zM290 392h1v1h-1zM321 392h2v1h-2zM325 392h1v1h-1zM356 392h4v1h-4zM395 392h1v1h-1zM430 392h1v1h-1zM461 392h2v1h-2zM465 392h1v1h-1zM496 392h4v1h-4zM535 392h1v1h-1zM570 392h1v1h-1zM40 393h1v1h-1zM45 393h1v1h-1zM75 393h6v1h-6zM110 393h6v1h-6zM145 393h1v1h-1zM148 393h1v1h-1zM150 393h1v1h-1zM180 393h1v1h-1zM185 393h1v1h-1zM215 393h1v1h-1zM220 393h1v1h-1zM250 393h6v1h-6zM285 393h1v1h-1zM288 393h1v1h-1zM290 393h1v1h-1zM320 393h1v1h-1zM323 393h1v1h-1zM325 393h1v1h-1zM355 393h1v1h-1zM360 393h1v1h-1zM390 393h6v1h-6zM425 393h6v1h-6zM460 393h1v1h-1zM463 393h1v1h-1zM465 393h1v1h-1zM495 393h1v1h-1zM500 393h1v1h-1zM530 393h6v1h-6zM565 393h6v1h-6zM41 394h4v1h-4zM76 394h1v1h-1zM80 394h1v1h-1zM111 394h1v1h-1zM115 394h1v1h-1zM145 394h1v1h-1zM149 394h2v1h-2zM181 394h4v1h-4zM216 394h4v1h-4zM251 394h1v1h-1zM255 394h1v1h-1zM285 394h1v1h-1zM289 394h2v1h-2zM320 394h1v1h-1zM324 394h2v1h-2zM356 394h4v1h-4zM391 394h1v1h-1zM395 394h1v1h-1zM426 394h1v1h-1zM430 394h1v1h-1zM460 394h1v1h-1zM464 394h2v1h-2zM496 394h4v1h-4zM531 394h1v1h-1zM535 394h1v1h-1zM566 394h1v1h-1zM570 394h1v1h-1zM146 395h1v1h-1zM150 395h1v1h-1zM286 395h1v1h-1zM290 395h1v1h-1zM321 395h1v1h-1zM325 395h1v1h-1zM461 395h1v1h-1zM465 395h1v1h-1z" fill="#000"/>
<rect x="593.5" y="25.5" width="162" height="183" fill="#fff" stroke="#000" stroke-width="1"/>
<rect x="599.5" y="32.5" width="6" height="15" fill="#aaaaaa" stroke="#000" stroke-width="1"/>
<rect x="599.5" y="49.5" width="6" height="15" fill="#ff0000" stroke="#000" stroke-width="1"/>
<rect x="599.5" y="66.5" width="6" height="15" fill="#808000" stroke="#000" stroke-width="1"/>
<rect x="599.5" y="83.5" width="6" height="15" fill="#00ff00" stroke="#000" stroke-width="1"/>
<rect x="599.5" y="100.5" width="6" height="15" fill="#ff9933" stroke="#000" stroke-width="1"/>
<rect x="599.5" y="117.5" width="6" height="15" fill="#000000" stroke="#000" stroke-width="1"/>
<rect x="599.5" y="134.5" width="6" height="15" fill="#cccc00" stroke="#000" stroke-width="1"/>
<rect x="599.5" y="151.5" width="6" height="15" fill="#ff3399" stroke="#000" stroke-width="1"/>
<rect x="599.5" y="168.5" width="6" height="15" fill="#0000ff" stroke="#000" stroke-width="1"/>
<rect x="599.5" y="185.5" width="6" height="15" fill="#ccff00" stroke="#000" stroke-width="1"/>
<rect x="0.5" y="0.5" width="759" height="399" fill="none" stroke="#8c8c8c" stroke-width="1"/>
<g filter="url(#bw2)"><text transform="translate(160,18) scale(1,0.94)" font-size="16" letter-spacing="-0.6" font-weight="bold">Erwartungswert der Abschlussplatzierung (Verlauf)</text></g>
<g filter="url(#bw)">
<text transform="translate(610.5,45) scale(1,1.22)" font-size="10">Bochumer SV O2 II</text>
<text transform="translate(610.5,62) scale(1,1.22)" font-size="10">SG Porz IV</text>
<text transform="translate(610.5,79) scale(1,1.22)" font-size="10">Krefelder SK Turm II</text>
<text transform="translate(610.5,96) scale(1,1.22)" font-size="10">Schachfüchse Kempen</text>
<text transform="translate(610.5,113) scale(1,1.22)" font-size="10">Kölner SK Dr. Lasker II</text>
<text transform="translate(610.5,130) scale(1,1.22)" font-size="10">SV Wattenscheid</text>
<text transform="translate(610.5,147) scale(1,1.22)" font-size="10">Mönchengladbacher SV</text>
<text transform="translate(610.5,164) scale(1,1.22)" font-size="10">Langenfelder SF</text>
<text transform="translate(610.5,181) scale(1,1.22)" font-size="10">OSC Rheinhausen</text>
<text transform="translate(610.5,198) scale(1,1.22)" font-size="10">SF Düsseldorf-Süd</text>
</g>
</svg></body></html>
